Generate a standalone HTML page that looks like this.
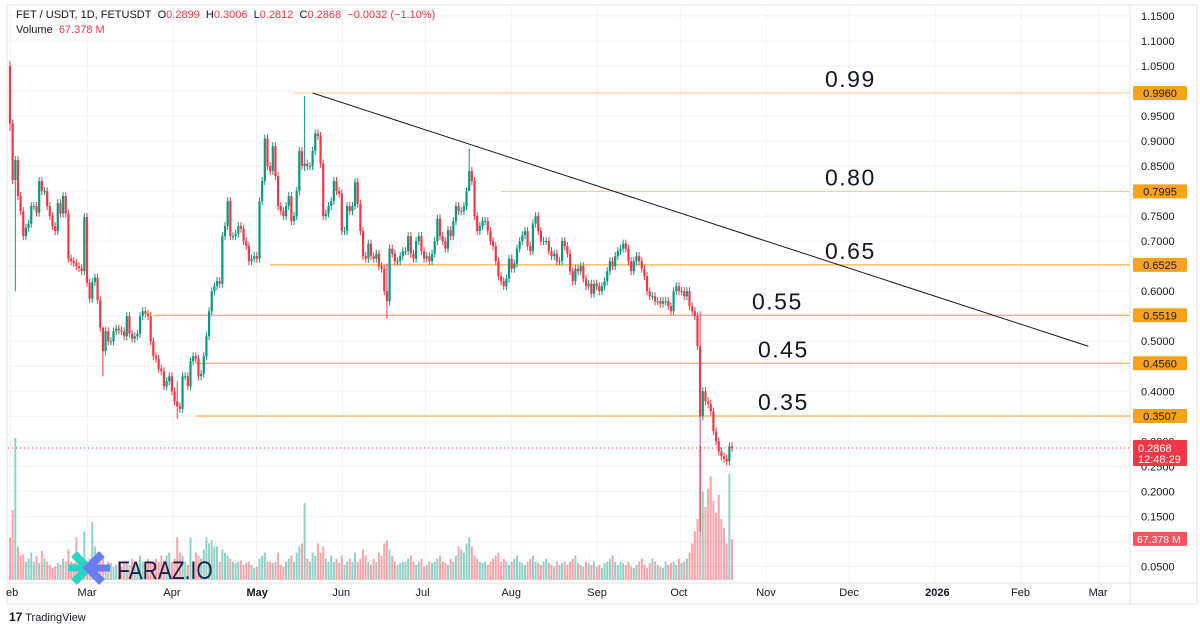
<!DOCTYPE html>
<html><head><meta charset="utf-8"><style>
body{margin:0;background:#fff;width:1200px;height:630px;overflow:hidden;font-family:"Liberation Sans",sans-serif}
svg text{font-family:"Liberation Sans",sans-serif}
</style></head><body>
<svg id="c" width="1200" height="630" xmlns="http://www.w3.org/2000/svg">
<rect x="0" y="0" width="1200" height="630" fill="#fff"/>
<rect x="7" y="5" width="1190" height="599" fill="none" stroke="#e0e3eb" stroke-width="1"/>
<g id="grid"></g>
<g id="vol"></g>
<g id="levels"></g>
<g id="candles"></g>
<g id="overlay"></g>
<g id="axis"></g>
</svg>
<script>
const closes=[0.935,0.822,0.862,0.79,0.76,0.71,0.727,0.735,0.77,0.77,
0.757,0.82,0.80,0.80,0.77,0.75,0.73,0.72,0.776,0.755,
0.79,0.755,0.665,0.66,0.656,0.65,0.646,0.64,0.748,0.617,
0.585,0.618,0.627,0.582,0.527,0.48,0.52,0.50,0.50,0.52,
0.525,0.522,0.52,0.51,0.55,0.515,0.505,0.51,0.515,0.55,
0.56,0.555,0.55,0.50,0.47,0.465,0.445,0.44,0.41,0.42,
0.43,0.40,0.38,0.37,0.365,0.43,0.43,0.41,0.46,0.47,
0.465,0.43,0.435,0.47,0.51,0.56,0.60,0.61,0.62,0.615,
0.71,0.73,0.78,0.71,0.71,0.715,0.73,0.725,0.70,0.69,
0.66,0.665,0.67,0.665,0.78,0.82,0.905,0.85,0.84,0.89,
0.83,0.77,0.76,0.75,0.77,0.79,0.74,0.75,0.80,0.88,
0.85,0.855,0.85,0.85,0.88,0.915,0.91,0.855,0.75,0.755,
0.77,0.78,0.82,0.80,0.795,0.72,0.72,0.77,0.76,0.77,
0.818,
0.775,0.72,0.67,0.665,0.695,0.67,0.665,0.675,0.65,0.645,
0.60,0.58,0.685,0.675,0.66,0.66,0.67,0.68,0.68,0.71,
0.675,0.665,0.70,0.71,0.68,0.665,0.67,0.66,0.675,0.70,
0.745,0.71,0.70,0.685,0.722,0.71,0.74,0.77,0.76,0.76,
0.77,0.80,0.84,0.82,0.75,0.72,0.73,0.74,0.74,0.72,
0.70,0.69,0.66,0.63,0.62,0.61,0.625,0.665,0.645,0.655,
0.685,0.70,0.712,0.72,0.69,0.68,0.735,0.75,0.72,0.70,
0.70,0.70,0.68,0.67,0.675,0.66,0.66,0.70,0.69,0.675,
0.64,0.62,0.645,0.64,0.65,0.625,0.61,0.615,0.595,0.615,
0.61,0.60,0.61,0.62,0.64,0.66,0.65,0.67,0.68,0.685,
0.695,0.685,0.66,0.64,0.66,0.67,0.66,0.645,0.63,0.60,
0.59,0.59,0.58,0.58,0.575,0.58,0.58,0.57,0.56,0.60,
0.61,0.60,0.60,0.59,0.60,0.57,0.56,0.55,0.49,0.35,
0.40,0.38,0.375,0.36,0.32,0.30,0.28,0.27,0.265,0.26,0.29,0.2868];
const firstOpen=1.05;
const wickIdx=[0,2,35,63,111,142,173,260];
const wickHigh=[1.06,0.87,0.53,0.42,0.99,0.655,0.885,0.56];
const wickLow=[0.92,0.60,0.43,0.345,0.84,0.545,0.81,0.12];
const volumes=[70,115,233,55,40,42,30,35,45,30,
40,28,48,35,30,25,20,22,28,25,35,30,50,30,28,70,40,28,80,30,
35,95,55,40,30,35,25,30,28,22,25,30,22,28,30,25,35,28,25,40,
30,25,35,28,30,35,30,40,32,40,45,30,35,70,45,40,30,25,70,30,
45,40,35,50,70,60,65,55,55,30,50,45,40,35,30,28,30,32,25,28,
30,25,20,22,35,40,45,30,30,28,30,45,25,22,30,35,40,30,45,55,
60,126,35,30,45,40,60,45,55,35,30,40,30,35,28,40,25,30,35,30,
45,30,35,50,40,30,25,35,30,45,40,60,65,50,40,30,25,28,30,30,
35,40,30,25,30,35,22,25,30,28,30,35,40,30,28,25,35,30,40,55,
50,45,60,70,55,40,35,30,28,30,25,30,35,40,45,30,35,30,25,30,
35,40,30,28,25,30,35,40,30,28,25,30,35,28,25,22,30,25,28,30,
25,30,35,40,28,25,22,30,28,25,30,22,25,20,28,30,35,40,30,25,
30,28,25,30,22,20,25,30,35,25,20,28,35,30,25,22,20,30,25,28,
30,25,35,28,30,35,45,60,80,100,220,145,120,150,170,130,110,140,100,85,60,174,67];
const levelPrices=[0.9960,0.7995,0.6525,0.5519,0.4560,0.3507];
const levelLabels=["0.9960","0.7995","0.6525","0.5519","0.4560","0.3507"];
const levelTexts=["0.99","0.80","0.65","0.55","0.45","0.35"];
const levelStartIdx=[107,185,98,54,70,70];
const priceTicks=[1.15,1.10,1.05,1.00,0.95,0.90,0.85,0.80,0.75,0.70,0.65,0.60,0.55,0.50,0.45,0.40,0.35,0.30,0.25,0.20,0.15,0.10,0.05];
const monthLabels=["eb","Mar","Apr","May","Jun","Jul","Aug","Sep","Oct","Nov","Dec","2026","Feb","Mar"];
const monthDays=[0,28,59,89,120,150,181,212,242,273,303,334,365,393];
const trendStart=[111,0.996];
const trendEnd=[390,0.49];
const lastPrice=0.2868, lastVol=67.378;

const NS="http://www.w3.org/2000/svg";
const N=Math.min(closes.length,volumes.length);
function y(p){return 93+(0.996-p)*500.5;}
function xi(i){return 10+i*(722/(N-1));}
function xd(d){return 8+d*2.77;}
function yv(v){return 580-v/1.64;}
function mk(tag,attrs,parent){const e=document.createElementNS(NS,tag);for(const k in attrs)e.setAttribute(k,attrs[k]);parent.appendChild(e);return e;}
const G=id=>document.getElementById(id);

priceTicks.forEach(p=>{const l=mk('line',{x1:8,x2:1130,y1:y(p),y2:y(p),stroke:'#f0f3fa','stroke-width':1},G('grid'));

});
monthDays.forEach(d=>{const l=mk('line',{x1:xd(d)+2,x2:xd(d)+2,y1:6,y2:583,stroke:'#f0f3fa','stroke-width':1},G('grid'));

});

for(let i=0;i<N;i++){
 const o=i===0?firstOpen:closes[i-1],c=closes[i];
 let h=Math.max(o,c)+0.008,lo=Math.min(o,c)-0.008;
 const w=wickIdx.indexOf(i);if(w>=0){h=wickHigh[w];lo=wickLow[w];}
 const up=c>=o,col=up?'#089981':'#f23645',x=xi(i);
 const vb=mk('rect',{x:x-1,y:yv(volumes[i]),width:2,height:580-yv(volumes[i]),fill:up?'rgba(8,153,129,0.45)':'rgba(242,54,69,0.45)'},G('vol'));
 
 
 const wl=mk('line',{x1:x,x2:x,y1:y(h),y2:y(lo),stroke:col,'stroke-width':1},G('candles'));
 
 
 const b=mk('rect',{x:x-1.1,y:y(Math.max(o,c)),width:2.2,height:Math.max(1,Math.abs(y(o)-y(c))),fill:col},G('candles'));
 
 
}

levelPrices.forEach((p,k)=>{
 const light=k<2;
 const l=mk('line',{x1:xi(levelStartIdx[k]),x2:1130,y1:y(p),y2:y(p),stroke:light?'#fbc987':'#f7a21b','stroke-width':1},G('levels'));
 
 
 const r=mk('rect',{x:1133,y:y(p)-7,width:54,height:14,rx:1,fill:'#f7a21b'},G('axis'));
 
 
 const t=mk('text',{x:1160,y:y(p)+4,'font-size':11,fill:'#131722','text-anchor':'middle'},G('axis'));t.textContent=levelLabels[k];
 
 
 const lx=k<3?825:(k==3?752:758);
 const tt=mk('text',{x:lx,y:y(p)-6,'font-size':23,fill:'#131722','letter-spacing':1.5},G('overlay'));tt.textContent=levelTexts[k];
 
 
});
const tl=mk('line',{x1:xi(trendStart[0])+8,y1:y(trendStart[1]),x2:xd(trendEnd[0]),y2:y(trendEnd[1]),stroke:'#131722','stroke-width':1},G('overlay'));


const lp=mk('line',{x1:8,x2:1130,y1:y(lastPrice),y2:y(lastPrice),stroke:'#f23645','stroke-width':1,'stroke-dasharray':'1 3'},G('overlay'));



const ax=G('axis');
mk('line',{x1:1130,x2:1130,y1:5,y2:604,stroke:'#e0e3eb'},ax);
mk('line',{x1:7,x2:1197,y1:583,y2:583,stroke:'#e0e3eb'},ax);
priceTicks.forEach(p=>{
 if(levelPrices.some(lv=>Math.abs(y(lv)-y(p))<10))return;
 const t=mk('text',{x:1141,y:y(p)+4,'font-size':11,fill:'#131722'},ax);t.textContent=p.toFixed(4);
 
 });
monthLabels.forEach((m,k)=>{const t=mk('text',{x:xd(monthDays[k])+(k==0?-2:-8),y:596,'font-size':11,fill:'#131722','font-weight':(m=='May'||m=='2026')?'bold':'normal'},ax);t.textContent=m;
 
 });
const pr=mk('rect',{x:1133,y:y(lastPrice)-8,width:54,height:26,rx:1,fill:'#f23645'},ax);


let t1=mk('text',{x:1138,y:y(lastPrice)+4,'font-size':11,fill:'#fff'},ax);t1.textContent=lastPrice.toFixed(4);
let t2=mk('text',{x:1138,y:y(lastPrice)+15,'font-size':11,fill:'#fff'},ax);t2.textContent='12:48:29';
const vr=mk('rect',{x:1133,y:yv(lastVol)-7,width:54,height:14,rx:1,fill:'#f7525f'},ax);


let t3=mk('text',{x:1137,y:yv(lastVol)+4,'font-size':10.5,fill:'#fff'},ax);t3.textContent=lastVol.toFixed(3)+' M';
</script>
<div style="position:absolute;left:16px;top:9px;font-size:11px;color:#131722;white-space:nowrap">FET / USDT, 1D, FETUSDT&nbsp; O<span style="color:#f23645">0.2899</span>&nbsp; H<span style="color:#f23645">0.3006</span>&nbsp; L<span style="color:#f23645">0.2812</span>&nbsp; C<span style="color:#f23645">0.2868</span>&nbsp; <span style="color:#f23645">−0.0032 (−1.10%)</span></div>
<div style="position:absolute;left:16px;top:24px;font-size:11px;color:#131722">Volume&nbsp; <span style="color:#f23645">67.378 M</span></div>
<div style="position:absolute;left:68px;top:548px;width:48px;height:40px">
<svg width="48" height="40"><path d="M6 6 L20 20 L6 34" stroke="#2ad4c4" stroke-width="8" fill="none"/><path d="M0 20 H20" stroke="#2ad4c4" stroke-width="7"/><path d="M34 6 L20 20 L34 34" stroke="#6a7df0" stroke-width="8" fill="none"/><path d="M20 20 H42" stroke="#6a7df0" stroke-width="7"/></svg></div>
<div style="position:absolute;left:117px;top:557px;font-size:25px;color:#1d1f4a;transform:scaleX(0.84);transform-origin:left top;white-space:nowrap">FARAZ.IO</div>
<div style="position:absolute;left:9px;top:610px;font-size:11px;color:#131722"><b style="font-size:12px">17</b> TradingView</div>
</body></html>
